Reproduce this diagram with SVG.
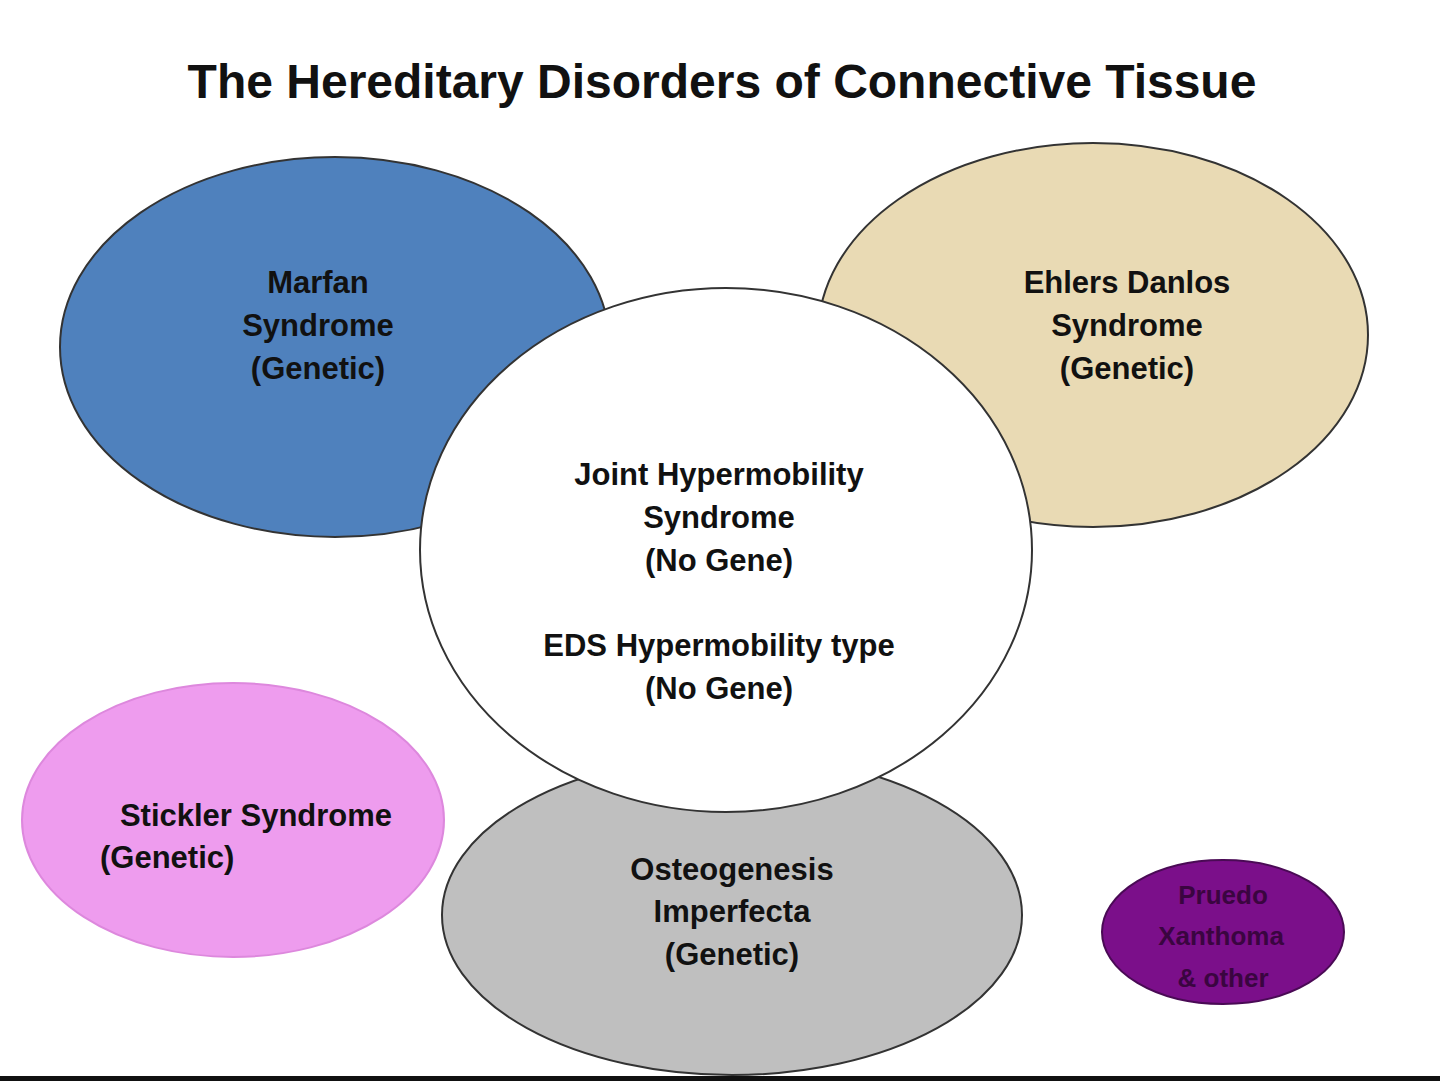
<svg xmlns="http://www.w3.org/2000/svg" width="1440" height="1081" viewBox="0 0 1440 1081">
<style>
text{font-family:"Liberation Sans",Arial,sans-serif;font-weight:bold;fill:#111;text-anchor:middle}
.l{font-size:31px}
.e{stroke:#333;stroke-width:2}
</style>
<rect width="1440" height="1081" fill="#fff"/>
<text x="722" y="98" style="font-size:48px">The Hereditary Disorders of Connective Tissue</text>
<g id="marfan"><ellipse class="e" cx="335" cy="347" rx="275" ry="190" fill="#4f81bd"/>
<text class="l" x="318" y="293">Marfan</text><text class="l" x="318" y="336">Syndrome</text><text class="l" x="318" y="379">(Genetic)</text></g>
<g id="ehlers"><ellipse class="e" cx="1093" cy="335" rx="275" ry="192" fill="#e9dab4"/>
<text class="l" x="1127" y="293">Ehlers Danlos</text><text class="l" x="1127" y="336">Syndrome</text><text class="l" x="1127" y="379">(Genetic)</text></g>
<g id="oi"><ellipse class="e" cx="732" cy="915" rx="290" ry="160" fill="#bfbfbf"/>
<text class="l" x="732" y="880">Osteogenesis</text><text class="l" x="732" y="922">Imperfecta</text><text class="l" x="732" y="965">(Genetic)</text></g>
<g id="jhs"><ellipse class="e" cx="726" cy="550" rx="306" ry="262" fill="#fff"/>
<text class="l" x="719" y="485">Joint Hypermobility</text><text class="l" x="719" y="528">Syndrome</text><text class="l" x="719" y="571">(No Gene)</text>
<text class="l" x="719" y="656">EDS Hypermobility type</text><text class="l" x="719" y="699">(No Gene)</text></g>
<g id="stickler"><ellipse cx="233" cy="820" rx="211" ry="137" fill="#ee9cee" stroke="#dd88dd" stroke-width="2"/>
<text class="l" x="256" y="826">Stickler Syndrome</text><text class="l" x="100" y="868" style="text-anchor:start">(Genetic)</text></g>
<g id="pxe"><ellipse cx="1223" cy="932" rx="121" ry="72" fill="#7b0f8a" stroke="#4a0a55" stroke-width="2"/>
<text x="1223" y="904" style="font-size:26px;fill:#3a0540">Pruedo</text><text x="1221" y="945" style="font-size:26px;fill:#3a0540">Xanthoma</text><text x="1223" y="987" style="font-size:26px;fill:#3a0540">&amp; other</text></g>
<g id="connectors"></g>
<rect x="0" y="1076" width="1440" height="5" fill="#111"/>
</svg>
